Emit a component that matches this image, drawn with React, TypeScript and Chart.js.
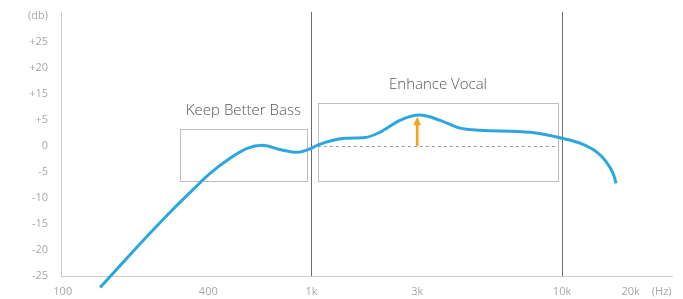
import React, { useEffect, useRef } from "react";
import { Chart, registerables } from "chart.js";

Chart.register(...registerables);

// x positions are in "decades above 100 Hz" (stylised frequency axis)
const xTickValues = [0.007, 0.588, 1, 1.422, 2, 2.274, 2.398];
const xTickLabels = ["100", "400", "1k", "3k", "10k", "20k", "(Hz)"];
const dividerX = [1, 2];

const yTickValues = [-25, -20, -15, -10, -5, 0, 5, 10, 15, 20, 25];
const yTickLabels = ["-25", "-20", "-15", "-10", "-5", "0", "+5", "+15", "+20", "+25", "(db)"];

const curveX = [0.156, 0.255, 0.355, 0.455, 0.527, 0.595, 0.675, 0.743, 0.802, 0.874, 0.942, 0.998, 1.022, 1.134, 1.214, 1.273, 1.353, 1.433, 1.513, 1.593, 1.673, 1.872, 2.0, 2.072, 2.14, 2.172, 2.204, 2.216];
const curveY = [-27.2, -22.0, -16.8, -11.8, -8.4, -5.3, -2.4, -0.5, 0.1, -0.7, -1.25, -0.5, 0.1, 1.45, 1.6, 2.6, 4.9, 5.9, 4.9, 3.4, 3.0, 2.6, 1.45, 0.5, -1.25, -2.8, -5.3, -7.2];

const boxLabels = ["Keep Better Bass", "Enhance Vocal"];
const boxX0 = [0.475, 1.025];
const boxX1 = [0.981, 1.985];
const boxY0 = [-6.77, -6.77];
const boxY1 = [3.3, 8.3];

const arrowX = 1.422;
const arrowY0 = 0;
const arrowY1 = 5.6;
const refLineY = 0;

const FONT = "'Open Sans', 'Noto Sans', sans-serif";

const decorPlugin = {
  id: "decor",
  beforeDatasetsDraw(chart: any) {
    const { ctx, scales } = chart;
    const xs = scales.x;
    const ys = scales.y;
    ctx.save();
    for (let i = 0; i < boxLabels.length; i++) {
      const l = xs.getPixelForValue(boxX0[i]);
      const r = xs.getPixelForValue(boxX1[i]);
      const t = ys.getPixelForValue(boxY1[i]);
      const b = ys.getPixelForValue(boxY0[i]);
      ctx.strokeStyle = "#bdbdbd";
      ctx.lineWidth = 1;
      ctx.strokeRect(Math.round(l) + 0.5, Math.round(t) + 0.5, Math.round(r - l), Math.round(b - t));
      ctx.fillStyle = "#555555";
      ctx.font = `300 15px ${FONT}`;
      ctx.textAlign = "center";
      ctx.textBaseline = "middle";
      ctx.fillText(boxLabels[i], (l + r) / 2, t - 18);
    }
    const dy = Math.round(ys.getPixelForValue(refLineY)) + 0.5;
    ctx.strokeStyle = "#9a9a9a";
    ctx.lineWidth = 1;
    ctx.setLineDash([3, 3]);
    ctx.beginPath();
    ctx.moveTo(xs.getPixelForValue(boxX0[1]), dy);
    ctx.lineTo(xs.getPixelForValue(boxX1[1]), dy);
    ctx.stroke();
    ctx.setLineDash([]);
    const ax = xs.getPixelForValue(arrowX);
    const a0 = ys.getPixelForValue(arrowY0);
    const a1 = ys.getPixelForValue(arrowY1);
    ctx.strokeStyle = "#f5a31a";
    ctx.fillStyle = "#f5a31a";
    ctx.lineWidth = 2.7;
    ctx.beginPath();
    ctx.moveTo(ax, a0);
    ctx.lineTo(ax, a1 + 7);
    ctx.stroke();
    ctx.beginPath();
    ctx.moveTo(ax, a1);
    ctx.lineTo(ax - 3.8, a1 + 8.5);
    ctx.lineTo(ax + 3.8, a1 + 8.5);
    ctx.closePath();
    ctx.fill();
    ctx.restore();
  },
};

export default function App() {
  const ref = useRef<HTMLCanvasElement | null>(null);
  useEffect(() => {
    if (!ref.current) return;
    const chart = new Chart(ref.current, {
      type: "line",
      data: {
        datasets: [
          {
            data: curveX.map((x, i) => ({ x, y: curveY[i] })),
            borderColor: "#2ba6df",
            borderWidth: 3,
            pointRadius: 0,
            pointHoverRadius: 0,
            tension: 0.4,
            cubicInterpolationMode: "monotone",
            fill: false,
            clip: false as any,
          },
        ],
      },
      options: {
        animation: false,
        responsive: true,
        maintainAspectRatio: false,
        layout: { autoPadding: false, padding: { top: 12, right: 11, left: 0, bottom: 0 } },
        plugins: { legend: { display: false }, tooltip: { enabled: false } },
        scales: {
          x: {
            type: "linear",
            min: 0,
            max: 2.439,
            afterBuildTicks: (s: any) => {
              s.ticks = xTickValues.map((v) => ({ value: v }));
            },
            afterFit: (s: any) => {
              s.height = 23;
              s.paddingLeft = 0;
              s.paddingRight = 0;
            },
            ticks: {
              autoSkip: false,
              maxRotation: 0,
              padding: 9,
              color: "#a8a8a8",
              font: { family: FONT, size: 11 },
              callback: (_v: any, i: number) => xTickLabels[i],
            },
            grid: {
              drawTicks: false,
              color: (c: any) => (c.tick && dividerX.includes(c.tick.value) ? "#6e6e6e" : "rgba(0,0,0,0)"),
              lineWidth: 1,
            },
            border: { color: "#cccccc", width: 1 },
          },
          y: {
            type: "linear",
            min: -25,
            max: 25.7,
            afterBuildTicks: (s: any) => {
              s.ticks = yTickValues.map((v) => ({ value: v }));
            },
            afterFit: (s: any) => {
              s.width = 61;
              s.paddingTop = 0;
              s.paddingBottom = 0;
            },
            ticks: {
              autoSkip: false,
              padding: 13,
              color: "#a8a8a8",
              font: { family: FONT, size: 11 },
              callback: (_v: any, i: number) => yTickLabels[i],
            },
            grid: { display: false, drawTicks: false },
            border: { color: "#cccccc", width: 1 },
          },
        },
      },
      plugins: [decorPlugin],
    } as any);
    return () => chart.destroy();
  }, []);
  return (
    <div style={{ position: "fixed", left: 0, top: 0, width: 683, height: 299, background: "#fff" }}>
      <canvas ref={ref} />
    </div>
  );
}
